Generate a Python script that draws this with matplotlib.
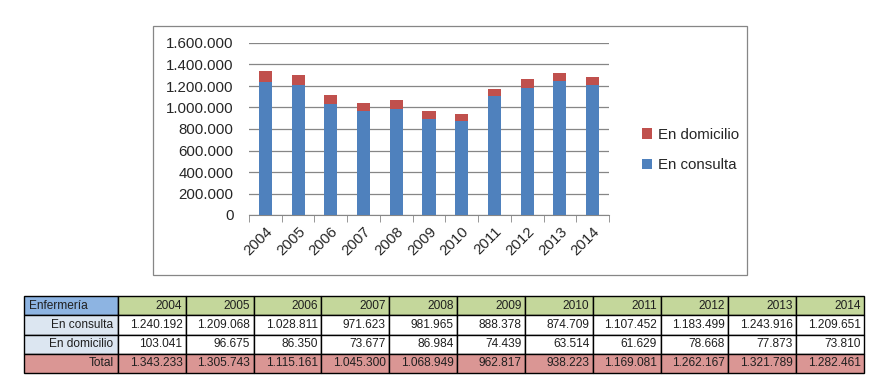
import matplotlib

matplotlib.use("Agg")
import matplotlib.pyplot as plt
import numpy as np
from matplotlib.patches import Rectangle

plt.rcParams["font.family"] = ["Liberation Sans", "DejaVu Sans"]

YEARS = ["2004", "2005", "2006", "2007", "2008", "2009", "2010", "2011", "2012", "2013", "2014"]
CONSULTA = [1240192, 1209068, 1028811, 971623, 981965, 888378, 874709, 1107452, 1183499, 1243916, 1209651]
DOMICILIO = [103041, 96675, 86350, 73677, 86984, 74439, 63514, 61629, 78668, 77873, 73810]
TOTAL = [1343233, 1305743, 1115161, 1045300, 1068949, 962817, 938223, 1169081, 1262167, 1321789, 1282461]

BLUE = "#4f81bd"
RED = "#c0504d"
W, H = 886, 392


def fmt(v: float) -> str:
    return f"{int(v):,}".replace(",", ".")


def px_axes(fig, x0, y0, x1, y1):
    return fig.add_axes([x0 / W, 1 - y1 / H, (x1 - x0) / W, (y1 - y0) / H])


fig = plt.figure(figsize=(W / 100, H / 100), dpi=100)

# chart frame
fig.patches.append(
    Rectangle((153 / W, 1 - 275 / H), (747 - 153) / W, (275 - 26) / H,
              transform=fig.transFigure, fill=False, edgecolor="#868686", linewidth=0.9)
)

ax = px_axes(fig, 249, 43, 609, 215)
x = np.arange(len(YEARS))
ax.bar(x, CONSULTA, width=0.4, color=BLUE, label="En consulta", zorder=3)
ax.bar(x, DOMICILIO, width=0.4, bottom=CONSULTA, color=RED, label="En domicilio", zorder=3)
ax.set_xlim(-0.5, len(YEARS) - 0.5)
ax.set_ylim(0, 1600000)
ax.set_yticks(np.arange(0, 1600001, 200000))
ax.set_yticklabels([fmt(v) for v in np.arange(0, 1600001, 200000)], fontsize=10.8, color="#262626")
ax.grid(axis="y", color="#868686", linewidth=0.9, zorder=0)
ax.set_xticks(x)
ax.set_xticklabels(YEARS, rotation=45, ha="right", rotation_mode="anchor", fontsize=10.8, color="#262626")
ax.set_xticks(np.arange(-0.5, len(YEARS)), minor=True)
ax.tick_params(axis="x", which="major", length=0, pad=7)
ax.tick_params(axis="x", which="minor", length=5, color="#868686", direction="out")
ax.tick_params(axis="y", length=0, pad=11)
for side in ["top", "right", "left"]:
    ax.spines[side].set_visible(False)
ax.spines["bottom"].set_color("#868686")

handles, labels = ax.get_legend_handles_labels()
fig.legend(handles[::-1], labels[::-1], loc="center left", bbox_to_anchor=(628 / W, 1 - 150 / H),
           frameon=False, fontsize=10.8, handlelength=0.7, handleheight=0.7,
           handletextpad=0.4, labelspacing=1.1, labelcolor="#262626")

# data table
tax = px_axes(fig, 24, 296, 864, 373)
tax.axis("off")
cell_text = [["Enfermería"] + YEARS,
             ["En consulta"] + [fmt(v) for v in CONSULTA],
             ["En domicilio"] + [fmt(v) for v in DOMICILIO],
             ["Total"] + [fmt(v) for v in TOTAL]]
first_w = 118 - 24
col_w = (864 - 118) / len(YEARS)
widths = [first_w] + [col_w] * len(YEARS)
widths = [w / (864 - 24) for w in widths]
tbl = tax.table(cellText=cell_text, colWidths=widths, bbox=[0, 0, 1, 1], cellLoc="right")
tbl.auto_set_font_size(False)
tbl.set_fontsize(8.6)
for (r, c), cell in tbl.get_celld().items():
    cell.set_edgecolor("black")
    cell.set_linewidth(1.0)
    cell.PAD = 0.05
    if r == 0:
        cell.set_facecolor("#8db4e2" if c == 0 else "#c4d79b")
    elif r == 3:
        cell.set_facecolor("#da9694")
    elif c == 0:
        cell.set_facecolor("#dce6f1")
    else:
        cell.set_facecolor("white")
    cell.get_text().set_color("#1f1f1f")
tbl[0, 0].get_text().set_ha("left")
tbl[0, 0]._loc = "left"

fig.savefig("out.png", dpi=100)
